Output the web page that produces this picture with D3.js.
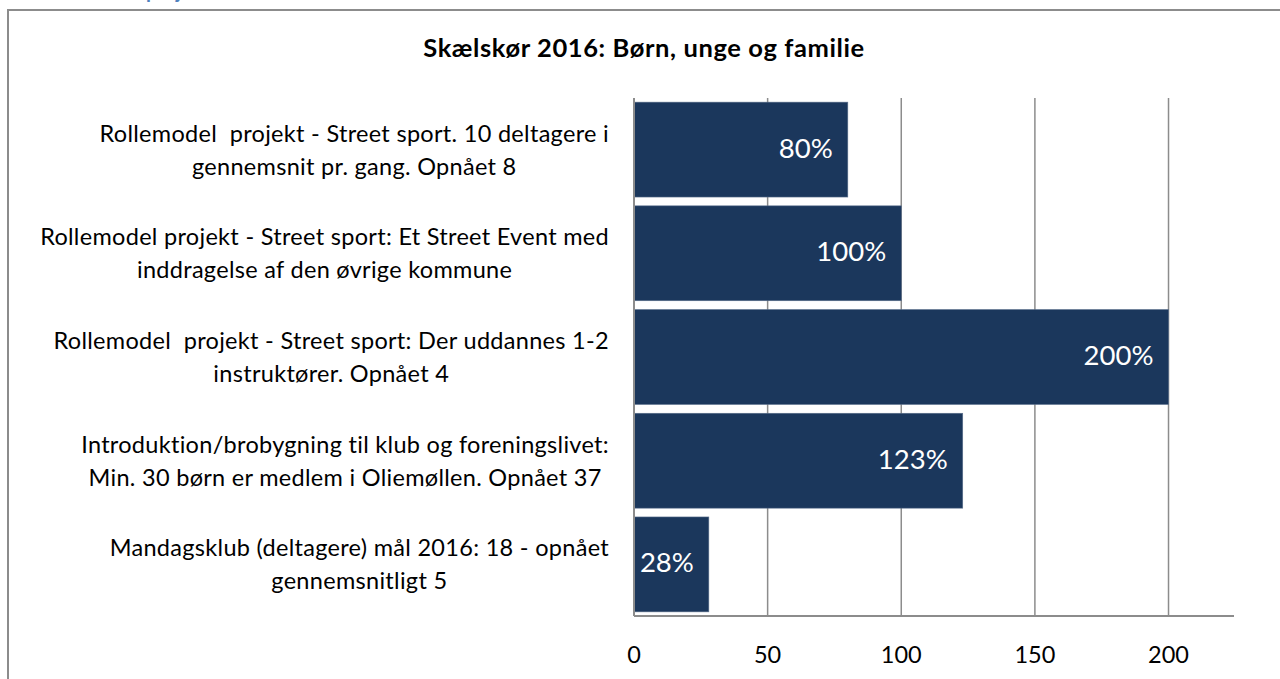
<!DOCTYPE html>
<html>
<head>
<meta charset="utf-8">
<script src="https://cdn.jsdelivr.net/npm/d3@7"></script>
<style>
  body { margin: 0; background: #fff; }
  svg { display: block; font-family: Lato, "Open Sans", sans-serif; }
</style>
</head>
<body>
<svg width="1280" height="679"></svg>
<script>
// categories (each label is split into its lines)
var categories = [
  ["Rollemodel  projekt - Street sport. 10 deltagere i", "gennemsnit pr. gang. Opnået 8"],
  ["Rollemodel projekt - Street sport: Et Street Event med", "inddragelse af den øvrige kommune"],
  ["Rollemodel  projekt - Street sport: Der uddannes 1-2", "instruktører. Opnået 4"],
  ["Introduktion/brobygning til klub og foreningslivet:", "Min. 30 børn er medlem i Oliemøllen. Opnået 37"],
  ["Mandagsklub (deltagere) mål 2016: 18 - opnået", "gennemsnitligt 5"]
];
var values = [80, 100, 200, 123, 28];
var valueLabels = ["80%", "100%", "200%", "123%", "28%"];
var tickValues = [0, 50, 100, 150, 200];
var title = "Skælskør 2016: Børn, unge og familie";
// heading of the page above the chart, mostly cut off
var pageHeading = "projekter";

var svg = d3.select("svg");

svg.append("text")
  .attr("x", 146)
  .attr("y", -2.5)
  .attr("font-size", 20)
  .attr("font-weight", "bold")
  .attr("fill", "#4f81bd")
  .text(pageHeading);

// outer frame (partly cut off by the page)
svg.append("path")
  .attr("d", "M8,680 V10 H1282")
  .attr("fill", "none")
  .attr("stroke", "#8c8c8c")
  .attr("stroke-width", 2);

// title
svg.append("text")
  .attr("x", 644)
  .attr("y", 57)
  .attr("text-anchor", "middle")
  .attr("font-size", 25.5)
  .attr("font-weight", "bold")
  .attr("letter-spacing", 0.6)
  .attr("fill", "#000")
  .text(title);

var plotLeft = 634, plotRight = 1234, plotTop = 98, plotBottom = 616;

var xScale = d3.scaleLinear()
  .domain([0, 224.5])
  .range([plotLeft, plotRight]);

var yScale = d3.scaleBand()
  .domain(d3.range(categories.length))
  .range([plotTop, plotBottom])
  .paddingInner(0.085)
  .paddingOuter(0.04);

// vertical gridlines
svg.append("g")
  .selectAll("line")
  .data(tickValues.slice(1))
  .enter()
    .append("line")
    .attr("x1", d => xScale(d))
    .attr("x2", d => xScale(d))
    .attr("y1", plotTop)
    .attr("y2", plotBottom)
    .attr("stroke", "#8c8c8c")
    .attr("stroke-width", 1.5);

// bars
svg.append("g")
  .selectAll("rect")
  .data(values)
  .enter()
    .append("rect")
    .attr("x", xScale(0))
    .attr("y", (d, i) => yScale(i))
    .attr("width", d => xScale(d) - xScale(0))
    .attr("height", yScale.bandwidth())
    .attr("fill", "#1b375c")
    .attr("stroke", "#5a6f8c")
    .attr("stroke-width", 0.6);

// value labels inside bar ends
svg.append("g")
  .selectAll("text")
  .data(values)
  .enter()
    .append("text")
    .attr("x", d => xScale(d) - 15)
    .attr("y", (d, i) => yScale(i) + yScale.bandwidth() / 2 + 8)
    .attr("text-anchor", "end")
    .attr("font-size", 27.5)
    .attr("fill", "#fff")
    .text((d, i) => valueLabels[i]);

// axis lines
svg.append("line")
  .attr("x1", plotLeft).attr("x2", plotLeft)
  .attr("y1", plotTop).attr("y2", plotBottom)
  .attr("stroke", "#8c8c8c").attr("stroke-width", 2);
svg.append("line")
  .attr("x1", plotLeft).attr("x2", plotRight)
  .attr("y1", plotBottom).attr("y2", plotBottom)
  .attr("stroke", "#8c8c8c").attr("stroke-width", 2);

// x tick labels
svg.append("g")
  .selectAll("text")
  .data(tickValues)
  .enter()
    .append("text")
    .attr("x", d => xScale(d))
    .attr("y", 663)
    .attr("text-anchor", "middle")
    .attr("font-size", 23.5)
    .attr("fill", "#000")
    .text(d => d);

// category labels: lines centred on each other, block right-aligned
var labelRight = 609;
categories.forEach(function(lines, i) {
  var g = svg.append("g");
  var cy = yScale(i) + yScale.bandwidth() / 2;
  var texts = lines.map(function(line, j) {
    return g.append("text")
      .attr("y", cy + (j - (lines.length - 1) / 2) * 33 + 8.5)
      .attr("text-anchor", "middle")
      .attr("font-size", 23.5)
      .attr("letter-spacing", 0.3)
      .attr("fill", "#000")
      .style("white-space", "pre")
      .text(line);
  });
  var w = d3.max(texts, t => t.node().getComputedTextLength());
  texts.forEach(t => t.attr("x", labelRight - w / 2));
});
</script>
</body>
</html>
